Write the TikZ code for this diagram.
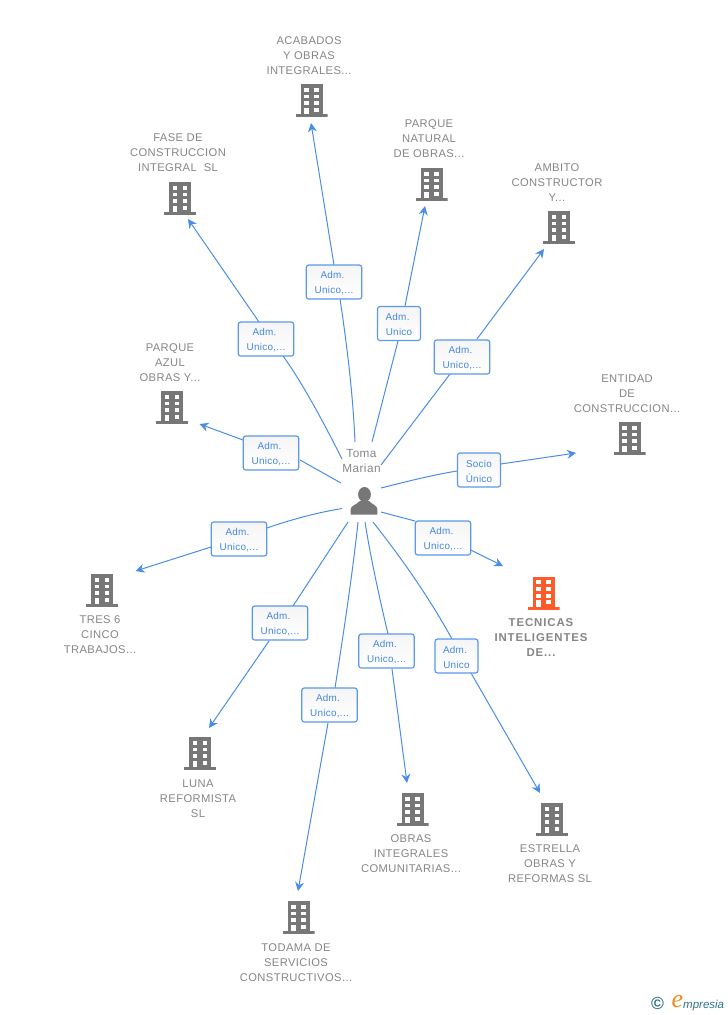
\documentclass[tikz,border=0pt]{standalone}
\usepackage{fontspec}
\setmainfont{Liberation Sans}
\newfontfamily\namefont[LetterSpace=3.5]{Liberation Sans}
\newfontfamily\boldnamefont[LetterSpace=8]{Liberation Sans Bold}
\newfontfamily\rolefont[LetterSpace=3]{Liberation Sans}
\newfontfamily\logofont{Liberation Serif}
\usetikzlibrary{arrows.meta}
\definecolor{edgeblue}{HTML}{4A8DE6}
\definecolor{boxblue}{HTML}{5B98EA}
\definecolor{labelblue}{HTML}{4487E2}
\definecolor{bgray}{HTML}{777777}
\definecolor{tgray}{HTML}{858585}
\definecolor{borange}{HTML}{FF5A2A}
\definecolor{logoteal}{HTML}{2F7488}
\definecolor{logoorange}{HTML}{F08A1D}
\newcommand{\admline}{\rule{0pt}{10pt}Adm.\hspace*{3pt}}
\tikzset{
  x=1pt,y=-1pt,
  bldgshape/.style={minimum width=32pt,minimum height=33pt,inner sep=0pt,outer sep=0pt,
    path picture={
      \begin{scope}[shift={(path picture bounding box.center)}]
      \fill[#1] (-11,-16.5) rectangle (11,14);
      \fill[#1] (-16,13.5) rectangle (16,16.5);
      \fill[white] (-7.5,-13) rectangle (-3,-9);
      \fill[white] (2.5,-13) rectangle (7,-9);
      \fill[white] (-7.5,-6) rectangle (-3,-2.5);
      \fill[white] (2.5,-6) rectangle (7,-2.5);
      \fill[white] (-7.5,0.5) rectangle (-3,4.5);
      \fill[white] (2.5,0.5) rectangle (7,4.5);
      \fill[white] (-7.5,7) rectangle (-3,13.5);
      \fill[white] (2.5,7) rectangle (7,11);
      \end{scope}
    }},
  bldg/.style={bldgshape=bgray},
  bldgact/.style={bldgshape=borange},
  nametext/.style={align=center,text=tgray,inner sep=0pt,font=\namefont\fontsize{11.2}{15}\selectfont},
  boldtext/.style={align=center,text=tgray,inner sep=0pt,font=\boldnamefont\fontsize{11.4}{15}\selectfont},
  role/.style={draw=boxblue,line width=1.2pt,rounded corners=2.5pt,minimum height=34pt,inner sep=0pt,
    top color=black!4,bottom color=white,align=center,text=labelblue,font=\rolefont\fontsize{9.9}{15}\selectfont},
  rolewide/.style={role,minimum width=55.5pt},
  rolenarrow/.style={role,minimum width=43pt},
  edge/.style={draw=edgeblue,line width=1pt},
  arrowedge/.style={edge,-{Stealth[length=9pt,width=9pt,inset=3pt]}},
}
\begin{document}
\begin{tikzpicture}
\useasboundingbox (0,0) rectangle (728,1015);

% centre person
\node[minimum size=30pt,inner sep=0pt] (person) at (364,501) {};
\fill[bgray] (364.5,494.5) ellipse (6.4pt and 7.5pt);
\fill[bgray] (350.7,514.5) -- (350.7,509) .. controls (351,505.5) and (356,505) .. (360,501)
  -- (369,501) .. controls (373,505) and (377,505.5) .. (377.3,509) -- (377.3,514.5) -- cycle;
\node[align=center,text=tgray,inner sep=0pt,font=\namefont\fontsize{11.8}{15}\selectfont] (ptext) at (361.5,461) {Toma\\Marian};

% companies
\node[bldg] (b1) at (311.5,100.5) {};
\node[nametext] (t1) at (309,56) {ACABADOS\\Y OBRAS\\INTEGRALES...};
\node[bldg] (b2) at (180,198.5) {};
\node[nametext] (t2) at (178,153) {FASE DE\\CONSTRUCCION\\INTEGRAL\ \ SL};
\node[bldg] (b3) at (431.5,184.5) {};
\node[nametext] (t3) at (429,139) {PARQUE\\NATURAL\\DE OBRAS...};
\node[bldg] (b4) at (559,227.5) {};
\node[nametext] (t4) at (557,183) {AMBITO\\CONSTRUCTOR\\Y...};
\node[bldg] (b5) at (629.5,438.5) {};
\node[nametext] (t5) at (627,394) {ENTIDAD\\DE\\CONSTRUCCION...};
\node[bldg] (b6) at (172,407.5) {};
\node[nametext] (t6) at (170,363) {PARQUE\\AZUL\\OBRAS Y...};
\node[bldg] (b7) at (102,590.5) {};
\node[nametext] (t7) at (100,635) {TRES 6\\CINCO\\TRABAJOS...};
\node[bldgact] (b8) at (543.5,593) {};
\node[boldtext] (t8) at (541,638) {TECNICAS\\INTELIGENTES\\DE...};
\node[bldg] (b9) at (200,753.5) {};
\node[nametext] (t9) at (198,799) {LUNA\\REFORMISTA\\SL};
\node[bldg] (b10) at (412.5,809.5) {};
\node[nametext] (t10) at (411,854) {OBRAS\\INTEGRALES\\COMUNITARIAS...};
\node[bldg] (b11) at (552,819.5) {};
\node[nametext] (t11) at (550,864) {ESTRELLA\\OBRAS Y\\REFORMAS SL};
\node[bldg] (b12) at (298.5,917.5) {};
\node[nametext] (t12) at (296,963) {TODAMA DE\\SERVICIOS\\CONSTRUCTIVOS...};

% connector ends: s = at the person, i = into the box, o = out of the box, e = tip
\coordinate (s1) at (355,442);   \coordinate (i1) at (340,299);   \coordinate (o1) at (334,265);   \coordinate (e1) at (311,123);
\coordinate (s2) at (342,459);   \coordinate (i2) at (283,356);   \coordinate (o2) at (259,322);   \coordinate (e2) at (188,219);
\coordinate (s3) at (372,442);   \coordinate (i3) at (398,341);   \coordinate (o3) at (405,306);   \coordinate (e3) at (425,206);
\coordinate (s4) at (381,465);   \coordinate (i4) at (450,374);   \coordinate (o4) at (477,339);   \coordinate (e4) at (544,249);
\coordinate (s5) at (381,488);   \coordinate (i5) at (457,471);   \coordinate (o5) at (500.7,464); \coordinate (e5) at (576,453);
\coordinate (s6) at (381,512);   \coordinate (i6) at (415,521);   \coordinate (o6) at (470.7,550); \coordinate (e6) at (503,566);
\coordinate (s7) at (341,483);   \coordinate (i7) at (300,460);   \coordinate (o7) at (243,440);   \coordinate (e7) at (199.5,424);
\coordinate (s8) at (342,508.5); \coordinate (i8) at (267,528);   \coordinate (o8) at (211,547);   \coordinate (e8) at (135.5,571);
\coordinate (s9) at (348,522);   \coordinate (i9) at (293,606);   \coordinate (o9) at (269,641);   \coordinate (e9) at (209,728);
\coordinate (s10) at (358,522);  \coordinate (i10) at (335,688);  \coordinate (o10) at (328,723);  \coordinate (e10) at (298,891);
\coordinate (s11) at (365,522);  \coordinate (i11) at (388,634);  \coordinate (o11) at (392,669);  \coordinate (e11) at (407,783);
\coordinate (s12) at (373,522);  \coordinate (i12) at (452,639);  \coordinate (o12) at (471,673);  \coordinate (e12) at (540,793);

\draw[edge] (s1) .. controls (353,395) and (347,345) .. (i1);
\draw[arrowedge] (o1) -- (e1);
\draw[edge] (s2) .. controls (325,425) and (302,382) .. (i2);
\draw[arrowedge] (o2) -- (e2);
\draw[edge] (s3) -- (i3);
\draw[arrowedge] (o3) -- (e3);
\draw[edge] (s4) -- (i4);
\draw[arrowedge] (o4) -- (e4);
\draw[edge] (s5) .. controls (405,482) and (432,475) .. (i5);
\draw[arrowedge] (o5) -- (e5);
\draw[edge] (s6) -- (i6);
\draw[arrowedge] (o6) -- (e6);
\draw[edge] (s7) -- (i7);
\draw[arrowedge] (o7) -- (e7);
\draw[edge] (s8) .. controls (315,513) and (290,520) .. (i8);
\draw[arrowedge] (o8) -- (e8);
\draw[edge] (s9) -- (i9);
\draw[arrowedge] (o9) -- (e9);
\draw[edge] (s10) .. controls (353,570) and (344,630) .. (i10);
\draw[arrowedge] (o10) -- (e10);
\draw[edge] (s11) .. controls (371,560) and (380,600) .. (i11);
\draw[arrowedge] (o11) -- (e11);
\draw[edge] (s12) .. controls (395,550) and (425,590) .. (i12);
\draw[arrowedge] (o12) -- (e12);

% role boxes
\node[rolewide] (r1) at (334,282) {\admline\\Unico,...};
\node[rolewide] (r2) at (266,339) {\admline\\Unico,...};
\node[rolenarrow] (r3) at (399,323.5) {\admline\\Unico};
\node[rolewide] (r4) at (462,357) {\admline\\Unico,...};
\node[rolenarrow] (r5) at (479,470) {\rule{0pt}{10pt}Socio\\Único};
\node[rolewide] (r6) at (443,538) {\admline\\Unico,...};
\node[rolewide] (r7) at (271,453) {\admline\\Unico,...};
\node[rolewide] (r8) at (239,539) {\admline\\Unico,...};
\node[rolewide] (r9) at (280,623) {\admline\\Unico,...};
\node[rolewide] (r10) at (329.5,705) {\admline\\Unico,...};
\node[rolewide] (r11) at (386.5,651) {\admline\\Unico,...};
\node[rolenarrow] (r12) at (456.5,656) {\admline\\Unico};

% logo
\node[inner sep=0pt,text=logoteal,font=\fontsize{17.5}{18}\selectfont\bfseries] (lc) at (657.5,1003.5) {©};
\node[inner sep=0pt,text=logoorange,font=\logofont\fontsize{26}{26}\selectfont\itshape] (le) at (677.5,1001) {e};
\node[inner sep=0pt,anchor=base west,text=logoteal,font=\fontsize{11.5}{12}\selectfont\itshape] (lt) at (683,1008) {mpresia};
\end{tikzpicture}
\end{document}
